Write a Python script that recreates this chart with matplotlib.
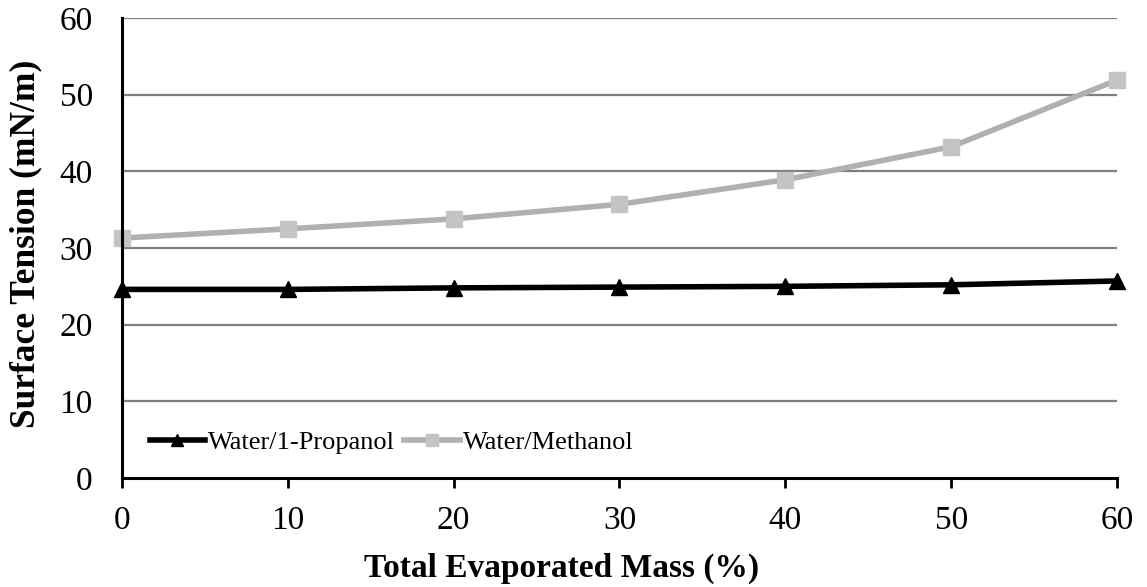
import matplotlib
matplotlib.use("Agg")
import matplotlib.pyplot as plt

x_mass = [0, 10, 20, 30, 40, 50, 60]
propanol = [24.6, 24.6, 24.8, 24.9, 25.0, 25.2, 25.7]
methanol = [31.3, 32.5, 33.8, 35.7, 38.9, 43.2, 51.9]
x_ticks = [0, 10, 20, 30, 40, 50, 60]
y_ticks = [0, 10, 20, 30, 40, 50, 60]

plt.rcParams['font.family'] = ['Liberation Serif', 'DejaVu Serif']

fig = plt.figure(figsize=(11.47, 5.87), dpi=100)
ax = fig.add_axes([0.1064, 0.1857, 0.8674, 0.7836])

for y in y_ticks[1:]:
    ax.axhline(y, color='#7f7f7f', lw=1.6, zorder=1)

ax.plot(x_mass, propanol, color='black', lw=4, marker='^', markersize=11,
        label='Water/1-Propanol', zorder=3, clip_on=False)
ax.plot(x_mass, methanol, color='#b0b0b0', lw=4, marker='s', markersize=11,
        markerfacecolor='#c4c4c4', markeredgecolor='#c4c4c4',
        label='Water/Methanol', zorder=3, clip_on=False)

ax.set_xlim(0, 60)
ax.set_ylim(0, 60)
ax.set_xticks(x_ticks)
ax.set_yticks(y_ticks)
ax.tick_params(axis='x', direction='out', length=7, width=2, labelsize=24, pad=13)
ax.tick_params(axis='y', length=0, labelsize=24, pad=21)
for s in ['top', 'right']:
    ax.spines[s].set_visible(False)
for s in ['left', 'bottom']:
    ax.spines[s].set_linewidth(2.2)
    ax.spines[s].set_zorder(4)

ax.set_xlabel('Total Evaporated Mass (%)', fontsize=24, fontweight='bold')
ax.set_ylabel('Surface Tension (mN/m)', fontsize=25.5, fontweight='bold')
ax.xaxis.set_label_coords(0.442, -0.163)
ax.yaxis.set_label_coords(-0.08, 0.51)

leg = ax.legend(loc='lower left', bbox_to_anchor=(0.017, 0.029), ncol=2, frameon=False,
                fontsize=19, handlelength=2.1, handletextpad=0.12, columnspacing=0.35,
                borderaxespad=0)
for h in leg.legend_handles:
    h.set_markersize(8)

fig.savefig('out.png', dpi=100)
